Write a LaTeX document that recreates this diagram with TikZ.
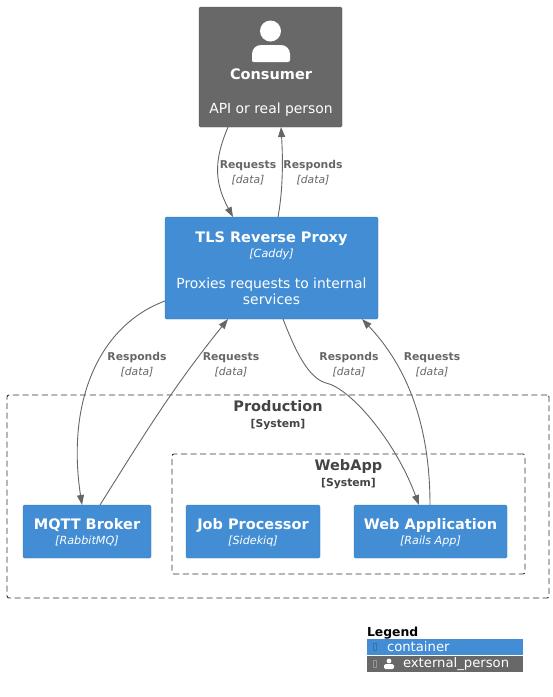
\documentclass[tikz,border=0pt]{standalone}
\usepackage{fontspec}
\setmainfont{DejaVu Sans}
\usetikzlibrary{arrows.meta,positioning}
\definecolor{containerblue}{HTML}{438DD5}
\definecolor{persongrey}{HTML}{686868}
\definecolor{linegrey}{HTML}{666666}
\definecolor{boundarygrey}{HTML}{333333}
\definecolor{boundarytext}{HTML}{444444}
\newcommand{\titletxtfont}{\fontsize{14.5}{18}\selectfont\bfseries}
\newcommand{\techtxtfont}{\fontsize{11.2}{13}\selectfont\itshape}

\begin{document}
\begin{tikzpicture}[
  x=1pt,y=-1pt,
  every node/.style={outer sep=0pt,inner sep=0pt},
  box/.style={rounded corners=1.5pt,draw=#1!85!black,line width=.4pt,fill=#1},
  boxtxt/.style={text=white,align=center,font=\fontsize{13.9}{16}\selectfont},
  link/.style={draw=linegrey,line width=.9pt,-{Triangle[length=10pt,width=7pt]}},
  linktxt/.style={text=linegrey,align=center,font=\fontsize{10.8}{15}\selectfont},
  boundary/.style={draw=boundarygrey,dash pattern=on 6pt off 3.6pt,line width=.9pt,rounded corners=2pt},
  boundarytxt/.style={text=boundarytext,align=center,font=\fontsize{10.8}{16}\selectfont},
  legendrow/.style={minimum width=156pt,minimum height=15.5pt,fill=#1},
  legendtxt/.style={text=white,anchor=west,font=\fontsize{13.2}{14}\selectfont}
]
\useasboundingbox (0,0) rectangle (553,697);
\node[boundary,minimum width=542pt,minimum height=203pt] (production) at (278,496.5) {};
\node[boundary,minimum width=353pt,minimum height=120pt] (webappsys) at (348.5,514) {};
\node[boundarytxt,below=5pt of production.north] (productiontxt) {{\titletxtfont Production}\\\textbf{[System]}};
\node[boundarytxt,below=5pt of webappsys.north] (webappsystxt) {{\titletxtfont WebApp}\\\textbf{[System]}};

\node[box=persongrey,minimum width=143pt,minimum height=120pt] (consumer) at (270.5,67) {};
\node[box=containerblue,minimum width=213pt,minimum height=102pt,below=90pt of consumer,xshift=1pt] (proxy) {};
\node[box=containerblue,minimum width=128pt,minimum height=53pt] (broker) at (87,531.5) {};
\node[box=containerblue,minimum width=134pt,minimum height=53pt,right=35pt of broker] (jobs) {};
\node[box=containerblue,minimum width=153pt,minimum height=53pt,right=34pt of jobs] (webapp) {};

% person icon
\fill[white] ([yshift=36pt]consumer.center) circle (10.5pt);
\fill[white] (252,60) [rounded corners=9pt] -- (252,45) -- (290,45) [rounded corners=2pt] -- (290,62) -- (252,62) -- cycle;

\node[boxtxt] (consumertxt) at (271,93) {{\titletxtfont Consumer}\\[18pt]API or real person};
\node[boxtxt] (proxytxt) at (proxy) {{\titletxtfont TLS Reverse Proxy}\\[-1pt]{\techtxtfont [Caddy]}\\[15pt]Proxies requests to internal\\[0.5pt]services};
\node[boxtxt] (brokertxt) at ([yshift=-1pt]broker.center) {{\titletxtfont MQTT Broker}\\[-1pt]{\techtxtfont [RabbitMQ]}};
\node[boxtxt] (jobstxt) at ([yshift=-1pt]jobs.center) {{\titletxtfont Job Processor}\\[-1pt]{\techtxtfont [Sidekiq]}};
\node[boxtxt] (webapptxt) at ([yshift=-1pt]webapp.center) {{\titletxtfont Web Application}\\[-1pt]{\techtxtfont [Rails App]}};

\draw[link] ([xshift=-42.5pt]consumer.south) .. controls (215,158) and (213,180) .. ([xshift=-38.5pt]proxy.north);
\draw[link] ([xshift=6.5pt]proxy.north) .. controls (283,190) and (283,160) .. ([xshift=10.5pt]consumer.south);
\draw[link] ([yshift=-33pt]proxy.west) .. controls (100,325) and (66,400) .. ([xshift=-5pt]broker.north);
\draw[link] ([xshift=13pt]broker.north) .. controls (150,425) and (175,385) .. ([xshift=-43.5pt]proxy.south);
\draw[link] ([xshift=11.5pt]proxy.south) .. controls (295,350) and (308,378) .. (326,383) .. controls (350,388) and (395,440) .. ([xshift=-11.5pt]webapp.north);
\draw[link] ([xshift=-0.5pt]webapp.north) .. controls (430,440) and (415,375) .. ([xshift=90.5pt]proxy.south);

\node[linktxt] (reqa) at (248,173) {\textbf{Requests}\\\textit{[data]}};
\node[linktxt] (respa) at (313,173) {\textbf{Responds}\\\textit{[data]}};
\node[linktxt] (respb) at (137,365) {\textbf{Responds}\\\textit{[data]}};
\node[linktxt] (reqb) at (231,365) {\textbf{Requests}\\\textit{[data]}};
\node[linktxt] (respc) at (349,365) {\textbf{Responds}\\\textit{[data]}};
\node[linktxt] (reqc) at (432,365) {\textbf{Requests}\\\textit{[data]}};

% legend
\node[legendrow=containerblue] (rowcontainer) at (445,647) {};
\node[legendrow=persongrey,below=1.5pt of rowcontainer] (rowperson) {};
\node[anchor=south west,font=\fontsize{12.4}{14}\selectfont\bfseries] (legendtitle) at (rowcontainer.north west) {Legend};
\node[legendtxt] (containertxt) at ([xshift=20pt]rowcontainer.west) {container};
\node[legendtxt] (persontxt) at ([xshift=36pt]rowperson.west) {external\_person};
\draw[containerblue!80!black,line width=.4pt] ([xshift=6pt,yshift=-3pt]rowcontainer.west) rectangle ([xshift=9pt,yshift=4pt]rowcontainer.west);
\draw[persongrey!70!white,line width=.4pt] ([xshift=6pt,yshift=-3pt]rowperson.west) rectangle ([xshift=9pt,yshift=4pt]rowperson.west);
\fill[white] ([xshift=22pt,yshift=3pt]rowperson.west) circle (2.4pt);
\fill[white,rounded corners=1.5pt] ([xshift=17pt,yshift=-5pt]rowperson.west) rectangle ([xshift=27pt,yshift=0pt]rowperson.west);
\end{tikzpicture}
\end{document}
